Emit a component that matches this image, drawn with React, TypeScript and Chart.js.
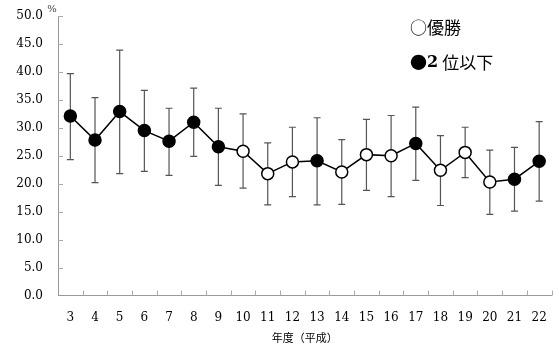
import React, { useEffect, useRef } from "react";
import { Chart, registerables } from "chart.js";

Chart.register(...registerables);

const years = ["3", "4", "5", "6", "7", "8", "9", "10", "11", "12", "13", "14", "15", "16", "17", "18", "19", "20", "21", "22"];
const meanValues = [32.1, 27.8, 32.9, 29.5, 27.6, 31.0, 26.6, 25.8, 21.8, 23.9, 24.1, 22.1, 25.2, 25.0, 27.2, 22.4, 25.6, 20.3, 20.8, 24.0];
const upperValues = [39.7, 35.4, 43.9, 36.7, 33.5, 37.1, 33.5, 32.5, 27.3, 30.1, 31.8, 27.9, 31.5, 32.2, 33.7, 28.6, 30.1, 26.0, 26.5, 31.1];
const lowerValues = [24.3, 20.2, 21.8, 22.2, 21.5, 24.9, 19.7, 19.2, 16.2, 17.7, 16.2, 16.3, 18.8, 17.7, 20.6, 16.1, 21.1, 14.5, 15.1, 16.9];
const isWinner = [false, false, false, false, false, false, false, true, true, true, false, true, true, true, false, true, true, true, false, false];

const yTicks = [0, 5, 10, 15, 20, 25, 30, 35, 40, 45, 50];
const legendWinner = "優勝";
const legendOthers = "位以下";
const xTitle = "年度（平成）";
const unitLabel = "%";

const TICK_FONT = "DejaVu Serif";
const CJK_FONT = "'Noto Sans CJK JP'";

const decorPlugin = {
  id: "decor",
  beforeDatasetsDraw(chart: any) {
    const ctx = chart.ctx;
    const x = chart.scales.x;
    const y = chart.scales.y;
    ctx.save();
    // error bars
    ctx.strokeStyle = "#555";
    ctx.lineWidth = 1.2;
    for (let i = 0; i < meanValues.length; i++) {
      const px = x.getPixelForValue(i);
      const pt = y.getPixelForValue(upperValues[i]);
      const pb = y.getPixelForValue(lowerValues[i]);
      ctx.beginPath();
      ctx.moveTo(px, pt);
      ctx.lineTo(px, pb);
      ctx.moveTo(px - 3.5, pt);
      ctx.lineTo(px + 3.5, pt);
      ctx.moveTo(px - 3.5, pb);
      ctx.lineTo(px + 3.5, pb);
      ctx.stroke();
    }
    // inner tick marks
    ctx.strokeStyle = "#aaa";
    ctx.lineWidth = 1;
    const left = chart.chartArea.left;
    const bottom = chart.chartArea.bottom;
    for (const v of yTicks) {
      if (v === 0) continue;
      const py = Math.round(y.getPixelForValue(v)) + 0.5;
      ctx.beginPath();
      ctx.moveTo(left, py);
      ctx.lineTo(left + 5, py);
      ctx.stroke();
    }
    const w = (chart.chartArea.right - left) / years.length;
    for (let i = 1; i <= years.length; i++) {
      const px = Math.round(left + i * w) + 0.5;
      ctx.beginPath();
      ctx.moveTo(px, bottom);
      ctx.lineTo(px, bottom - 5);
      ctx.stroke();
    }
    ctx.restore();
  },
  afterDraw(chart: any) {
    const ctx = chart.ctx;
    ctx.save();
    ctx.fillStyle = "#444";
    ctx.font = `10px '${TICK_FONT}'`;
    ctx.textAlign = "center";
    ctx.textBaseline = "middle";
    ctx.fillText(unitLabel, 52, 9);

    ctx.fillStyle = "#000";
    ctx.textAlign = "left";
    ctx.textBaseline = "middle";
    // legend line 1
    let lx = 410;
    ctx.font = `17px ${CJK_FONT}`;
    ctx.fillText("○", lx, 27.5);
    lx += ctx.measureText("○").width;
    ctx.fillText(legendWinner, lx, 27.5);
    // legend line 2
    lx = 410;
    ctx.fillText("●", lx, 62.5);
    lx += ctx.measureText("●").width;
    ctx.font = `bold 16px '${TICK_FONT}'`;
    ctx.fillText("2", lx, 63);
    lx += ctx.measureText("2").width + 4;
    ctx.font = `17px ${CJK_FONT}`;
    ctx.fillText(legendOthers, lx, 62.5);
    ctx.restore();
  },
};

export default function App() {
  const ref = useRef<HTMLCanvasElement>(null);
  useEffect(() => {
    document.body.style.margin = "0";
    const canvas = ref.current!;
    const chart = new Chart(canvas, {
      type: "line",
      data: {
        labels: years,
        datasets: [
          {
            data: meanValues,
            borderColor: "#000",
            borderWidth: 1.5,
            pointRadius: 6,
            pointHoverRadius: 6,
            pointBorderWidth: 1.5,
            pointBorderColor: "#000",
            pointBackgroundColor: isWinner.map((w) => (w ? "#fff" : "#000")),
            tension: 0,
            fill: false,
          },
        ],
      },
      options: {
        responsive: false,
        animation: false,
        layout: { padding: { top: 16, right: 0, left: 0, bottom: 0 } },
        plugins: { legend: { display: false }, tooltip: { enabled: false } },
        scales: {
          x: {
            type: "category",
            offset: true,
            grid: { display: false, drawTicks: false },
            border: { display: true, color: "#999", width: 1 },
            ticks: {
              padding: 15,
              color: "#000",
              font: { family: TICK_FONT, size: 12 },
              maxRotation: 0,
              autoSkip: false,
            },
            title: {
              display: true,
              text: xTitle,
              color: "#000",
              font: { family: "Noto Sans CJK JP", size: 11 },
              padding: { top: 0, bottom: 0 },
            },
            afterFit: (s: any) => {
              s.height = 48.5;
              s.paddingLeft = 0;
              s.paddingRight = 0;
            },
          },
          y: {
            min: 0,
            max: 50,
            grid: { display: false, drawTicks: false },
            border: { display: true, color: "#999", width: 1 },
            ticks: {
              stepSize: 5,
              padding: 15,
              color: "#000",
              font: { family: TICK_FONT, size: 12 },
              callback: (v: any) => Number(v).toFixed(1),
            },
            afterFit: (s: any) => {
              s.width = 58;
              s.paddingTop = 0;
              s.paddingBottom = 0;
            },
          },
        },
      },
      plugins: [decorPlugin],
    });
    return () => chart.destroy();
  }, []);
  return (
    <div style={{ width: 559, height: 344 }}>
      <canvas ref={ref} width={559} height={344} style={{ display: "block" }} />
    </div>
  );
}
